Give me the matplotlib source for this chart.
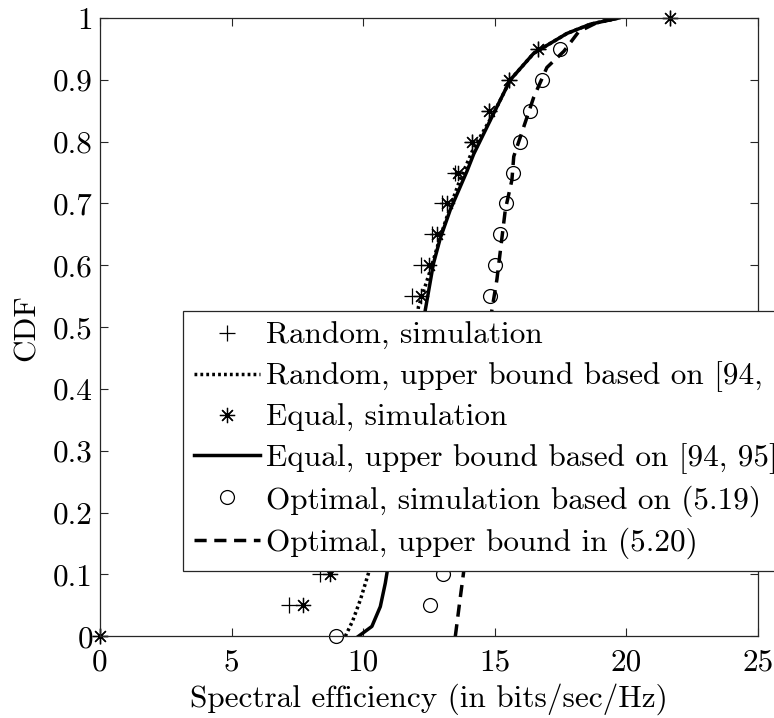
import numpy as np
import matplotlib
matplotlib.use('Agg')
import matplotlib.pyplot as plt

plt.rcParams['font.family'] = ['cmr10', 'DejaVu Serif']
plt.rcParams['mathtext.fontset'] = 'cm'
plt.rcParams['axes.formatter.use_mathtext'] = True

# CDF levels of the simulated points
cdf_levels = [0.0, 0.05, 0.1, 0.15, 0.2, 0.25, 0.3, 0.35, 0.4, 0.45, 0.5,
              0.55, 0.6, 0.65, 0.7, 0.75, 0.8, 0.85, 0.9, 0.95, 1.0]

random_sim = [0.0, 7.19, 8.37, 9.3, 9.9, 10.3, 10.7, 11.0, 11.3, 11.5, 11.7,
              11.85, 12.2, 12.6, 13.0, 13.5, 14.13, 14.77, 15.55, 16.63, 21.64]
equal_sim = [0.0, 7.73, 8.75, 9.6, 10.2, 10.6, 10.95, 11.25, 11.55, 11.8, 12.0,
             12.2, 12.5, 12.8, 13.19, 13.62, 14.13, 14.77, 15.55, 16.63, 21.64]

optimal_levels = cdf_levels[:-1]
optimal_sim = [8.97, 12.55, 13.05, 13.4, 13.7, 13.95, 14.15, 14.3, 14.45, 14.6, 14.72,
               14.83, 15.02, 15.21, 15.42, 15.68, 15.97, 16.32, 16.79, 17.49]

# Analytical upper bounds
random_bound_x = [9.32, 9.6, 9.9, 10.2, 10.6, 11.0, 11.4, 11.8, 12.1, 12.55, 12.93,
                  13.31, 13.69, 14.2, 14.96, 15.59, 16.48, 17.74, 18.63, 19.71]
random_bound_y = [0.0, 0.025, 0.06, 0.102, 0.17, 0.25, 0.34, 0.44, 0.533, 0.592, 0.646,
                  0.695, 0.74, 0.79, 0.846, 0.9, 0.943, 0.975, 0.99, 1.0]

equal_bound_x = [9.82, 10.33, 10.65, 10.84, 10.92, 11.15, 11.45, 11.8, 12.1, 12.36, 12.67,
                 12.93, 13.31, 13.94, 14.2, 14.96, 15.59, 16.48, 17.74, 18.63, 19.71]
equal_bound_y = [0.0, 0.016, 0.048, 0.086, 0.107, 0.18, 0.27, 0.37, 0.45, 0.528, 0.603,
                 0.644, 0.69, 0.752, 0.78, 0.846, 0.9, 0.943, 0.975, 0.99, 1.0]

optimal_bound_x = [13.5, 13.65, 13.81, 14.05, 14.35, 14.65, 14.89, 15.08, 15.4, 15.65,
                   15.72, 16.48, 16.98, 17.62, 18.19, 18.9, 19.71]
optimal_bound_y = [0.0, 0.05, 0.102, 0.2, 0.32, 0.44, 0.528, 0.577, 0.69, 0.738,
                   0.776, 0.872, 0.92, 0.946, 0.978, 0.993, 1.0]

asterisk = (8, 2, 0)
fs = 22.5

fig = plt.figure(figsize=(7.74, 7.18), dpi=100)
ax = fig.add_axes([100 / 774, 1 - 636.3 / 718, 658 / 774, 618.3 / 718])

ax.plot(random_sim, cdf_levels, linestyle='none', marker='+', ms=11, mew=0.9,
        color='k', clip_on=False, label='Random, simulation')
ax.plot(random_bound_x, random_bound_y, linestyle=(0, (0.8, 0.9)), lw=2.5,
        color='k', label='Random, upper bound based on [94, 95]')
ax.plot(equal_sim, cdf_levels, linestyle='none', marker=asterisk, ms=11, mew=0.9,
        color='k', clip_on=False, label='Equal, simulation')
ax.plot(equal_bound_x, equal_bound_y, linestyle='-', lw=2.5,
        color='k', label='Equal, upper bound based on [94, 95]')
ax.plot(optimal_sim, optimal_levels, linestyle='none', marker='o', ms=10, mew=0.9,
        mfc='none', color='k', clip_on=False, label='Optimal, simulation based on (5.19)')
ax.plot(optimal_bound_x, optimal_bound_y, linestyle=(0, (3.5, 2.2)), lw=2.5,
        color='k', label='Optimal, upper bound in (5.20)')

ax.set_xlim(0, 25)
ax.set_ylim(0, 1)
ax.set_xticks([0, 5, 10, 15, 20, 25])
ax.set_xticklabels(['0', '5', '10', '15', '20', '25'])
ax.set_yticks(np.arange(0, 1.01, 0.1))
ax.set_yticklabels(['0', '0.1', '0.2', '0.3', '0.4', '0.5', '0.6', '0.7', '0.8', '0.9', '1'])
ax.tick_params(direction='in', length=6, width=0.8, top=True, right=True,
               labelsize=fs, colors='#262626', labelcolor='k', pad=5)
ax.tick_params(axis='x', pad=9)
for s in ax.spines.values():
    s.set_linewidth(0.9)
    s.set_color('#262626')

ax.set_xlabel('Spectral efficiency (in bits/sec/Hz)', fontsize=fs, labelpad=5)
ax.set_ylabel('CDF', fontsize=fs, labelpad=9)

leg = ax.legend(loc='upper left', bbox_to_anchor=(183 / 774, 1 - 311 / 718),
                bbox_transform=fig.transFigure, fontsize=fs, frameon=True,
                fancybox=False, framealpha=1, edgecolor='#262626',
                handlelength=2.1, handletextpad=0.2, borderpad=0.36,
                labelspacing=0.36, borderaxespad=0)
leg.get_frame().set_linewidth(0.9)
leg.set_zorder(5)

fig.savefig('out.png', dpi=100)
